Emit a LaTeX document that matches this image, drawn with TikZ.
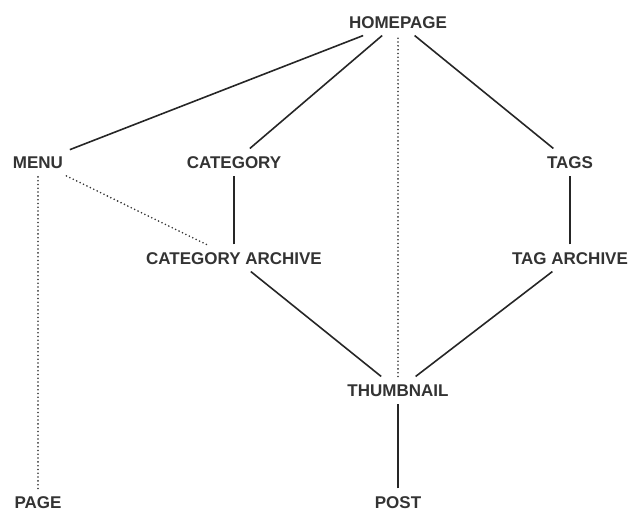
\documentclass[tikz,border=0pt]{standalone}
\usepackage{fontspec}
\setmainfont{Liberation Sans}
\usepackage{tikz}

\begin{document}
\begin{tikzpicture}[x=1pt,y=-1pt,line width=1.6pt]
        \tikzstyle{page}=[rectangle,text=black!80,font=\fontsize{17}{17}\selectfont\bfseries,
            inner xsep=6pt,inner ysep=6.5pt,text height=12.5pt,text depth=0pt]
        \tikzstyle{link}=[draw=black!85]
        \tikzstyle{menulink}=[draw=black!80,line width=1.8pt,line cap=round,dash pattern=on 0pt off 3.8pt]
        \useasboundingbox (0,0) rectangle (629,512);
        \node[page](home) at (398,22) {HOMEPAGE};
        \node[page](menu) at (38,162) {MENU}
            edge [link] (home);
        \node[page](cat) at (234,162) {CATEGORY}
            edge [link] (home);
        \node[page](tags) at (570,162) {TAGS}
            edge [link] (home);
        \node[page](catarch) at (234,258) {CATEGORY ARCHIVE}
            edge [link] (cat)
            edge [menulink] (menu);
        \node[page](tagarch) at (570,258) {TAG ARCHIVE}
            edge [link] (tags);
        \node[page](thumb) at (398,390) {THUMBNAIL}
            edge [link] (catarch)
            edge [link] (tagarch)
            edge [menulink] (home);
        \node[page](pg) at (38,502) {PAGE}
            edge [menulink] (menu);
        \node[page](post) at (398,502) {POST}
            edge [link] (thumb);
\end{tikzpicture}
\end{document}
